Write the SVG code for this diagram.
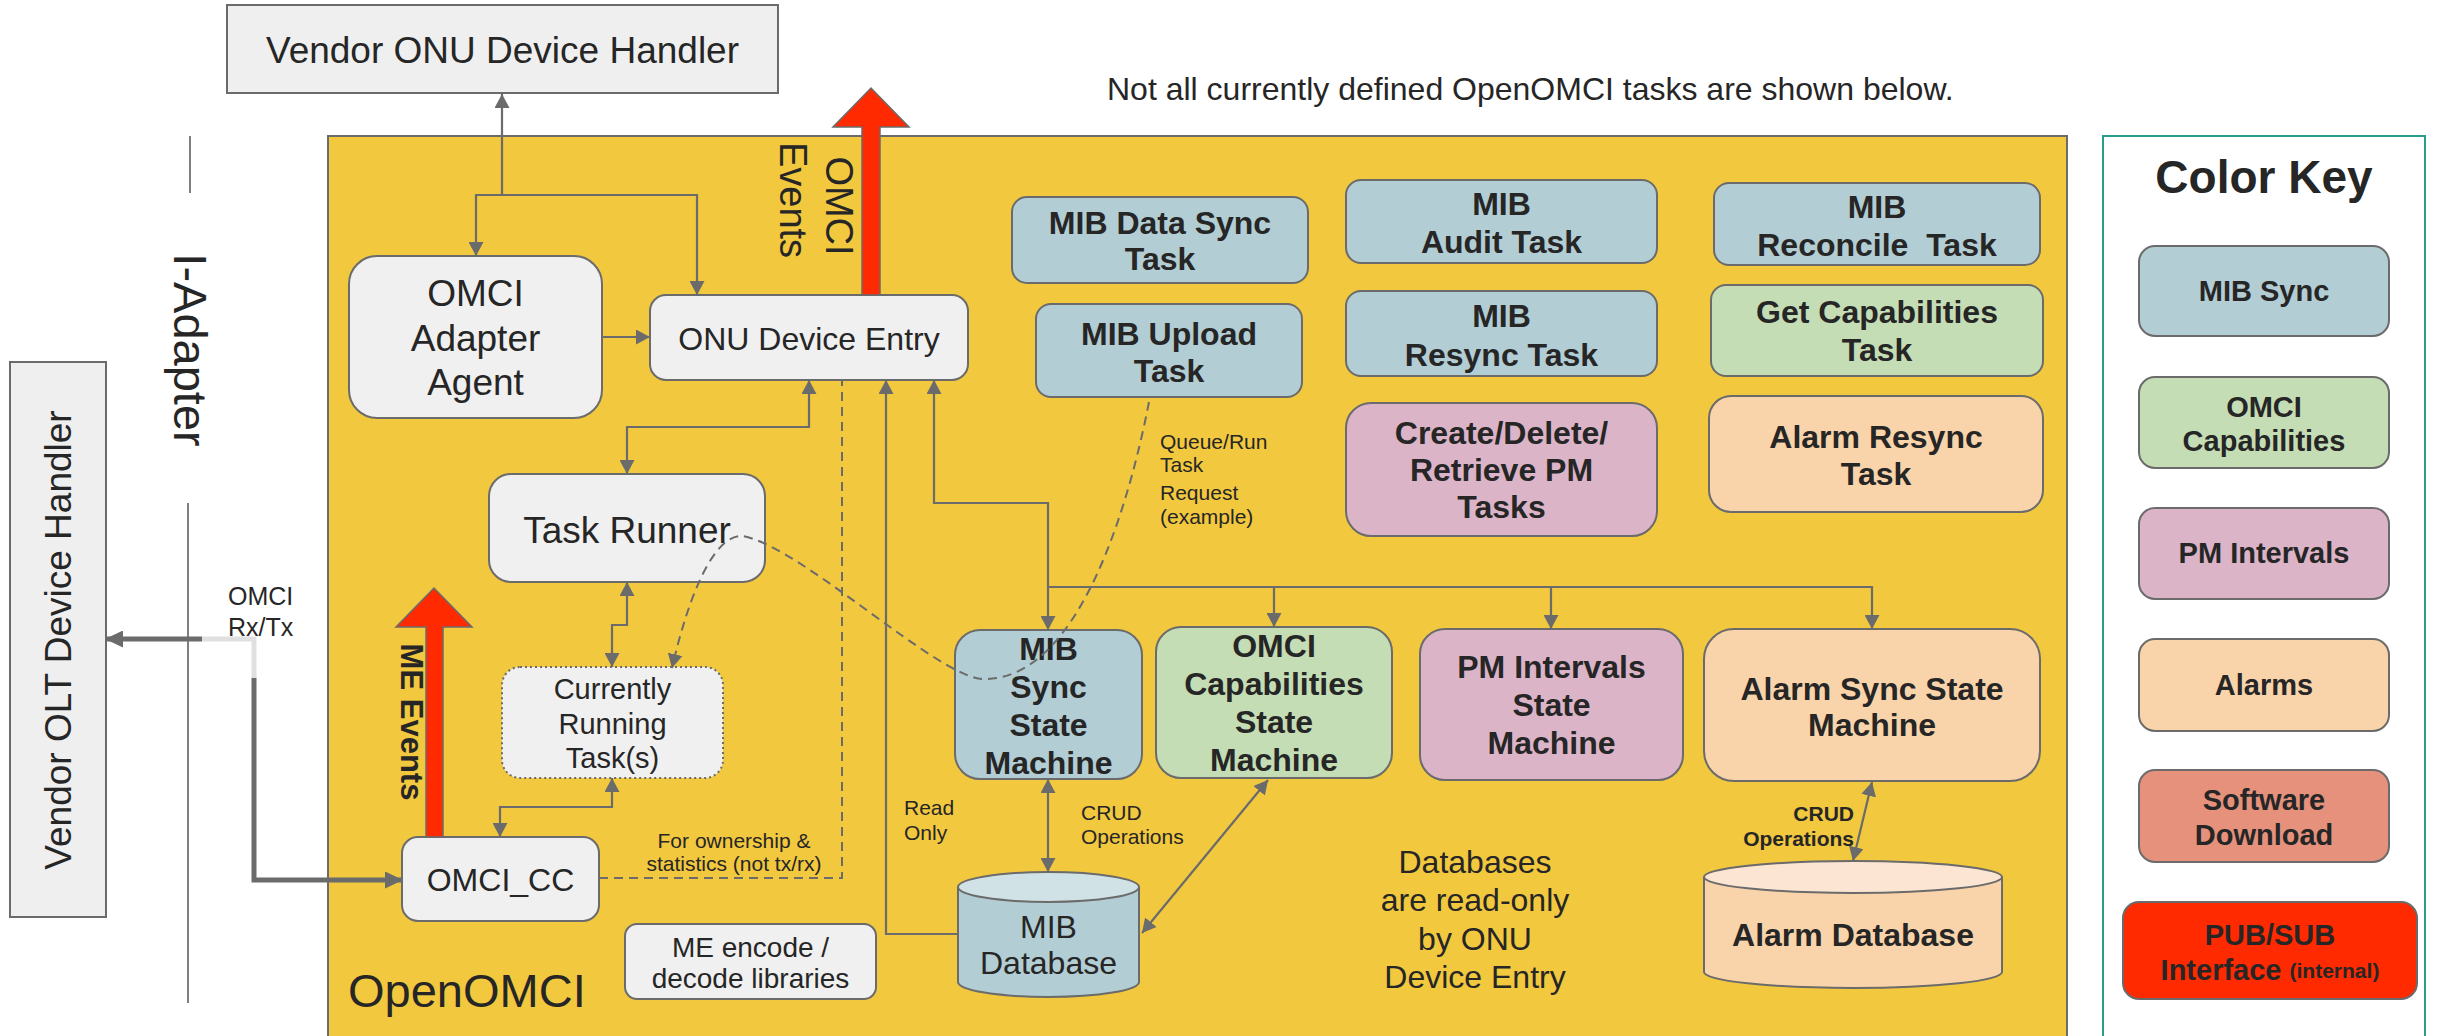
<svg xmlns="http://www.w3.org/2000/svg" width="2437" height="1036" viewBox="0 0 2437 1036">
<defs>
<style>
text{font-family:"Liberation Sans",Arial,sans-serif;fill:#262626}
.c{text-anchor:middle;dominant-baseline:central}
.b{font-weight:bold}
.grey{fill:#f0f0f0;stroke:#6b6b6b;stroke-width:2}
.blue{fill:#b2cdd3;stroke:#6b6b6b;stroke-width:2}
.green{fill:#c4ddb5;stroke:#6b6b6b;stroke-width:2}
.pink{fill:#dcb4c8;stroke:#6b6b6b;stroke-width:2}
.peach{fill:#f9d4aa;stroke:#6b6b6b;stroke-width:2}
.ln{fill:none;stroke:#6b6b6b;stroke-width:2.2}
.dash{fill:none;stroke:#6b6b6b;stroke-width:2;stroke-dasharray:9 6}
.t32{font-size:32px}
.t29{font-size:29px}
.t21{font-size:21px}
</style>
<marker id="a" markerUnits="userSpaceOnUse" viewBox="0 0 14 15" refX="14" refY="7.5" markerWidth="14" markerHeight="15" orient="auto-start-reverse"><path d="M0,0 L14,7.5 L0,15 z" fill="#6b6b6b"/></marker>
<marker id="at" markerUnits="userSpaceOnUse" viewBox="0 0 18 17" refX="17" refY="8.5" markerWidth="18" markerHeight="17" orient="auto-start-reverse"><path d="M0,0 L18,8.5 L0,17 z" fill="#6b6b6b"/></marker>
</defs>
<rect width="2437" height="1036" fill="#ffffff"/>

<g id="openomci">
<rect x="328" y="136" width="1739" height="910" fill="#f2c83f" stroke="#6b6b6b" stroke-width="2"/>
<text x="348" y="1007" font-size="47">OpenOMCI</text>
</g>

<g id="vendor-onu">
<rect x="227" y="5" width="551" height="88" fill="#efefef" stroke="#6b6b6b" stroke-width="2"/>
<text class="c" x="502.5" y="50" font-size="37">Vendor ONU Device Handler</text>
</g>

<g id="vendor-olt">
<rect x="10" y="362" width="96" height="555" fill="#efefef" stroke="#6b6b6b" stroke-width="2"/>
<text class="c" transform="translate(58,640) rotate(-90)" font-size="37">Vendor OLT Device Handler</text>
</g>

<g id="i-adapter">
<line x1="190" y1="136" x2="190" y2="193" stroke="#555" stroke-width="1.5"/>
<line x1="188" y1="503" x2="188" y2="1003" stroke="#555" stroke-width="1.5"/>
<text class="c" transform="translate(190,350) rotate(90)" font-size="47">I-Adapter</text>
</g>

<text x="1107" y="100" font-size="32">Not all currently defined OpenOMCI tasks are shown below.</text>

<g id="omci-adapter-agent">
<rect class="grey" x="349" y="256" width="253" height="162" rx="28"/>
<text class="c" x="475.5" y="293" font-size="37">OMCI</text>
<text class="c" x="475.5" y="338" font-size="37">Adapter</text>
<text class="c" x="475.5" y="382" font-size="37">Agent</text>
</g>

<g id="onu-device-entry">
<rect class="grey" x="650" y="295" width="318" height="85" rx="16"/>
<text class="c t32" x="809" y="339">ONU Device Entry</text>
</g>

<g id="task-runner">
<rect class="grey" x="489" y="474" width="276" height="108" rx="22"/>
<text class="c" x="627" y="530" font-size="37">Task Runner</text>
</g>

<g id="currently-running">
<rect x="502" y="667" width="221" height="111" rx="18" fill="#f0f0f0" stroke="#6b6b6b" stroke-width="2" stroke-dasharray="2 3"/>
<text class="c t29" x="612.5" y="689">Currently</text>
<text class="c t29" x="612.5" y="724">Running</text>
<text class="c t29" x="612.5" y="758">Task(s)</text>
</g>

<g id="omci-cc">
<rect class="grey" x="402" y="837" width="197" height="84" rx="16"/>
<text class="c t32" x="500.5" y="880">OMCI_CC</text>
</g>

<g id="me-encode">
<rect class="grey" x="625" y="924" width="251" height="75" rx="12"/>
<text class="c" x="750.5" y="947" font-size="28">ME encode /</text>
<text class="c" x="750.5" y="978" font-size="28">decode libraries</text>
</g>

<g id="mib-data-sync-task">
<rect class="blue" x="1012" y="197" width="296" height="86" rx="15"/>
<text class="c t32 b" x="1160" y="223">MIB Data Sync</text>
<text class="c t32 b" x="1160" y="259">Task</text>
</g>

<g id="mib-upload-task">
<rect class="blue" x="1036" y="304" width="266" height="93" rx="15"/>
<text class="c t32 b" x="1169" y="334">MIB Upload</text>
<text class="c t32 b" x="1169" y="371">Task</text>
</g>

<g id="mib-audit-task">
<rect class="blue" x="1346" y="180" width="311" height="83" rx="15"/>
<text class="c t32 b" x="1501.5" y="204">MIB</text>
<text class="c t32 b" x="1501.5" y="242">Audit Task</text>
</g>

<g id="mib-resync-task">
<rect class="blue" x="1346" y="291" width="311" height="85" rx="15"/>
<text class="c t32 b" x="1501.5" y="316">MIB</text>
<text class="c t32 b" x="1501.5" y="355">Resync Task</text>
</g>

<g id="pm-tasks">
<rect class="pink" x="1346" y="403" width="311" height="133" rx="25"/>
<text class="c t32 b" x="1501.5" y="433">Create/Delete/</text>
<text class="c t32 b" x="1501.5" y="470">Retrieve PM</text>
<text class="c t32 b" x="1501.5" y="507">Tasks</text>
</g>

<g id="mib-reconcile-task">
<rect class="blue" x="1714" y="183" width="326" height="82" rx="15"/>
<text class="c t32 b" x="1877" y="207">MIB</text>
<text class="c t32 b" x="1877" y="245" xml:space="preserve">Reconcile  Task</text>
</g>

<g id="get-capabilities-task">
<rect class="green" x="1711" y="285" width="332" height="91" rx="15"/>
<text class="c t32 b" x="1877" y="312">Get Capabilities</text>
<text class="c t32 b" x="1877" y="350">Task</text>
</g>

<g id="alarm-resync-task">
<rect class="peach" x="1709" y="396" width="334" height="116" rx="22"/>
<text class="c t32 b" x="1876" y="437">Alarm Resync</text>
<text class="c t32 b" x="1876" y="474">Task</text>
</g>

<g id="mib-sync-sm">
<rect class="blue" x="955" y="630" width="187" height="149" rx="25"/>
<text class="c t32 b" x="1048.5" y="649">MIB</text>
<text class="c t32 b" x="1048.5" y="687">Sync</text>
<text class="c t32 b" x="1048.5" y="725">State</text>
<text class="c t32 b" x="1048.5" y="763">Machine</text>
</g>

<g id="omci-cap-sm">
<rect class="green" x="1156" y="627" width="236" height="151" rx="25"/>
<text class="c t32 b" x="1274" y="646">OMCI</text>
<text class="c t32 b" x="1274" y="684">Capabilities</text>
<text class="c t32 b" x="1274" y="722">State</text>
<text class="c t32 b" x="1274" y="760">Machine</text>
</g>

<g id="pm-intervals-sm">
<rect class="pink" x="1420" y="629" width="263" height="151" rx="25"/>
<text class="c t32 b" x="1551.5" y="667">PM Intervals</text>
<text class="c t32 b" x="1551.5" y="705">State</text>
<text class="c t32 b" x="1551.5" y="743">Machine</text>
</g>

<g id="alarm-sync-sm">
<rect class="peach" x="1704" y="629" width="336" height="152" rx="30"/>
<text class="c t32 b" x="1872" y="689">Alarm Sync State</text>
<text class="c t32 b" x="1872" y="725">Machine</text>
</g>

<g id="mib-database">
<path d="M958,887 V982 A90.5,15 0 0 0 1139,982 V887" fill="#b2cdd3" stroke="#6b6b6b" stroke-width="2"/>
<ellipse cx="1048.5" cy="887" rx="90.5" ry="15" fill="#d0e2e6" stroke="#6b6b6b" stroke-width="2"/>
<text class="c t32" x="1048.5" y="927">MIB</text>
<text class="c t32" x="1048.5" y="963">Database</text>
</g>

<g id="alarm-database">
<path d="M1704,877 V972 A149,16 0 0 0 2002,972 V877" fill="#f9d4aa" stroke="#6b6b6b" stroke-width="2"/>
<ellipse cx="1853" cy="877" rx="149" ry="16" fill="#fce6d3" stroke="#6b6b6b" stroke-width="2"/>
<text class="c t32 b" x="1853" y="935">Alarm Database</text>
</g>

<g id="color-key">
<rect x="2103" y="136" width="322" height="910" fill="#ffffff" stroke="#2a9d8a" stroke-width="2"/>
<text x="2264" y="193" text-anchor="middle" font-size="46" font-weight="bold">Color Key</text>
<rect class="blue" x="2139" y="246" width="250" height="90" rx="16"/>
<text class="c t29 b" x="2264" y="291">MIB Sync</text>
<rect class="green" x="2139" y="377" width="250" height="91" rx="16"/>
<text class="c t29 b" x="2264" y="407">OMCI</text>
<text class="c t29 b" x="2264" y="441">Capabilities</text>
<rect class="pink" x="2139" y="508" width="250" height="91" rx="16"/>
<text class="c t29 b" x="2264" y="553">PM Intervals</text>
<rect class="peach" x="2139" y="639" width="250" height="92" rx="16"/>
<text class="c t29 b" x="2264" y="685">Alarms</text>
<rect x="2139" y="770" width="250" height="92" rx="16" fill="#e5917c" stroke="#6b6b6b" stroke-width="2"/>
<text class="c t29 b" x="2264" y="800">Software</text>
<text class="c t29 b" x="2264" y="835">Download</text>
<rect x="2123" y="902" width="294" height="97" rx="16" fill="#ff2a00" stroke="#6b6b6b" stroke-width="2"/>
<text class="c t29 b" x="2270" y="935">PUB/SUB</text>
<text class="c b" x="2270" y="970"><tspan font-size="29">Interface </tspan><tspan font-size="21">(internal)</tspan></text>
</g>

<g id="connectors">
<path class="ln" d="M502,195 V94" marker-end="url(#a)"/>
<path class="ln" d="M476,256 V195 H697 V295" marker-start="url(#a)" marker-end="url(#a)"/>
<path class="ln" d="M602,337 H650" marker-end="url(#a)"/>
<path class="ln" d="M809,380 V427 H627 V474" marker-start="url(#a)" marker-end="url(#a)"/>
<path class="dash" d="M599,878 H842 V381"/>
<path class="ln" d="M958,934 H886 V380" marker-end="url(#a)"/>
<path class="ln" d="M934,380 V503 H1048 V630" marker-start="url(#a)" marker-end="url(#a)"/>
<path class="ln" d="M1048,587 H1872 V629" marker-end="url(#a)"/>
<path class="ln" d="M1274,587 V627" marker-end="url(#a)"/>
<path class="ln" d="M1551,587 V629" marker-end="url(#a)"/>
<path class="ln" d="M627,582 V625 H612 V667" marker-start="url(#a)" marker-end="url(#a)"/>
<path class="ln" d="M612,778 V807 H500 V837" marker-start="url(#a)" marker-end="url(#a)"/>
<path class="ln" d="M1048,779 V872" marker-start="url(#a)" marker-end="url(#a)"/>
<path class="ln" d="M1268,780 L1142,933" marker-start="url(#a)" marker-end="url(#a)"/>
<path class="ln" d="M1872,782 L1853,861" marker-start="url(#a)" marker-end="url(#a)"/>
<path class="dash" d="M1149,402 C1130,500 1080,680 984,679 C940,680 800,545 742,536 C715,535 690,590 672,668" marker-end="url(#a)"/>
<path d="M202,639 H254 V678" fill="none" stroke="#e0e0e0" stroke-width="5"/>
<path d="M254,678 V880 H402" fill="none" stroke="#6b6b6b" stroke-width="5" marker-end="url(#at)"/>
<path d="M202,639 H106" fill="none" stroke="#6b6b6b" stroke-width="5" marker-end="url(#at)"/>
<polygon points="862,295 862,127 833,127 871,88 909,127 880,127 880,295" fill="#ff2a00" stroke="#6b6b6b" stroke-width="1.5"/>
<polygon points="426,837 426,627 396,627 434,588 472,627 443,627 443,837" fill="#ff2a00" stroke="#6b6b6b" stroke-width="1.5"/>
</g>

<g id="labels">
<text class="c" transform="translate(826,206) rotate(90)" font-size="38" style="dominant-baseline:auto">OMCI</text>
<text class="c" transform="translate(780,200) rotate(90)" font-size="38" style="dominant-baseline:auto">Events</text>
<text class="c b" transform="translate(401,722) rotate(90)" font-size="31" style="dominant-baseline:auto">ME Events</text>
<text x="228" y="596" font-size="25" dominant-baseline="central">OMCI</text>
<text x="228" y="627" font-size="25" dominant-baseline="central">Rx/Tx</text>
<text class="c t21" x="734" y="840">For ownership &amp;</text>
<text class="c t21" x="734" y="863">statistics (not tx/rx)</text>
<text class="t21" x="1160" y="441" dominant-baseline="central">Queue/Run</text>
<text class="t21" x="1160" y="464" dominant-baseline="central">Task</text>
<text class="t21" x="1160" y="492" dominant-baseline="central">Request</text>
<text class="t21" x="1160" y="516" dominant-baseline="central">(example)</text>
<text class="t21" x="904" y="807" dominant-baseline="central">Read</text>
<text class="t21" x="904" y="832" dominant-baseline="central">Only</text>
<text class="t21" x="1081" y="812" dominant-baseline="central">CRUD</text>
<text class="t21" x="1081" y="836" dominant-baseline="central">Operations</text>
<text class="t21 b" x="1854" y="813" text-anchor="end" dominant-baseline="central">CRUD</text>
<text class="t21 b" x="1854" y="838" text-anchor="end" dominant-baseline="central">Operations</text>
<text class="c t32" x="1475" y="862">Databases</text>
<text class="c t32" x="1475" y="900">are read-only</text>
<text class="c t32" x="1475" y="939">by ONU</text>
<text class="c t32" x="1475" y="977">Device Entry</text>
</g>
</svg>
